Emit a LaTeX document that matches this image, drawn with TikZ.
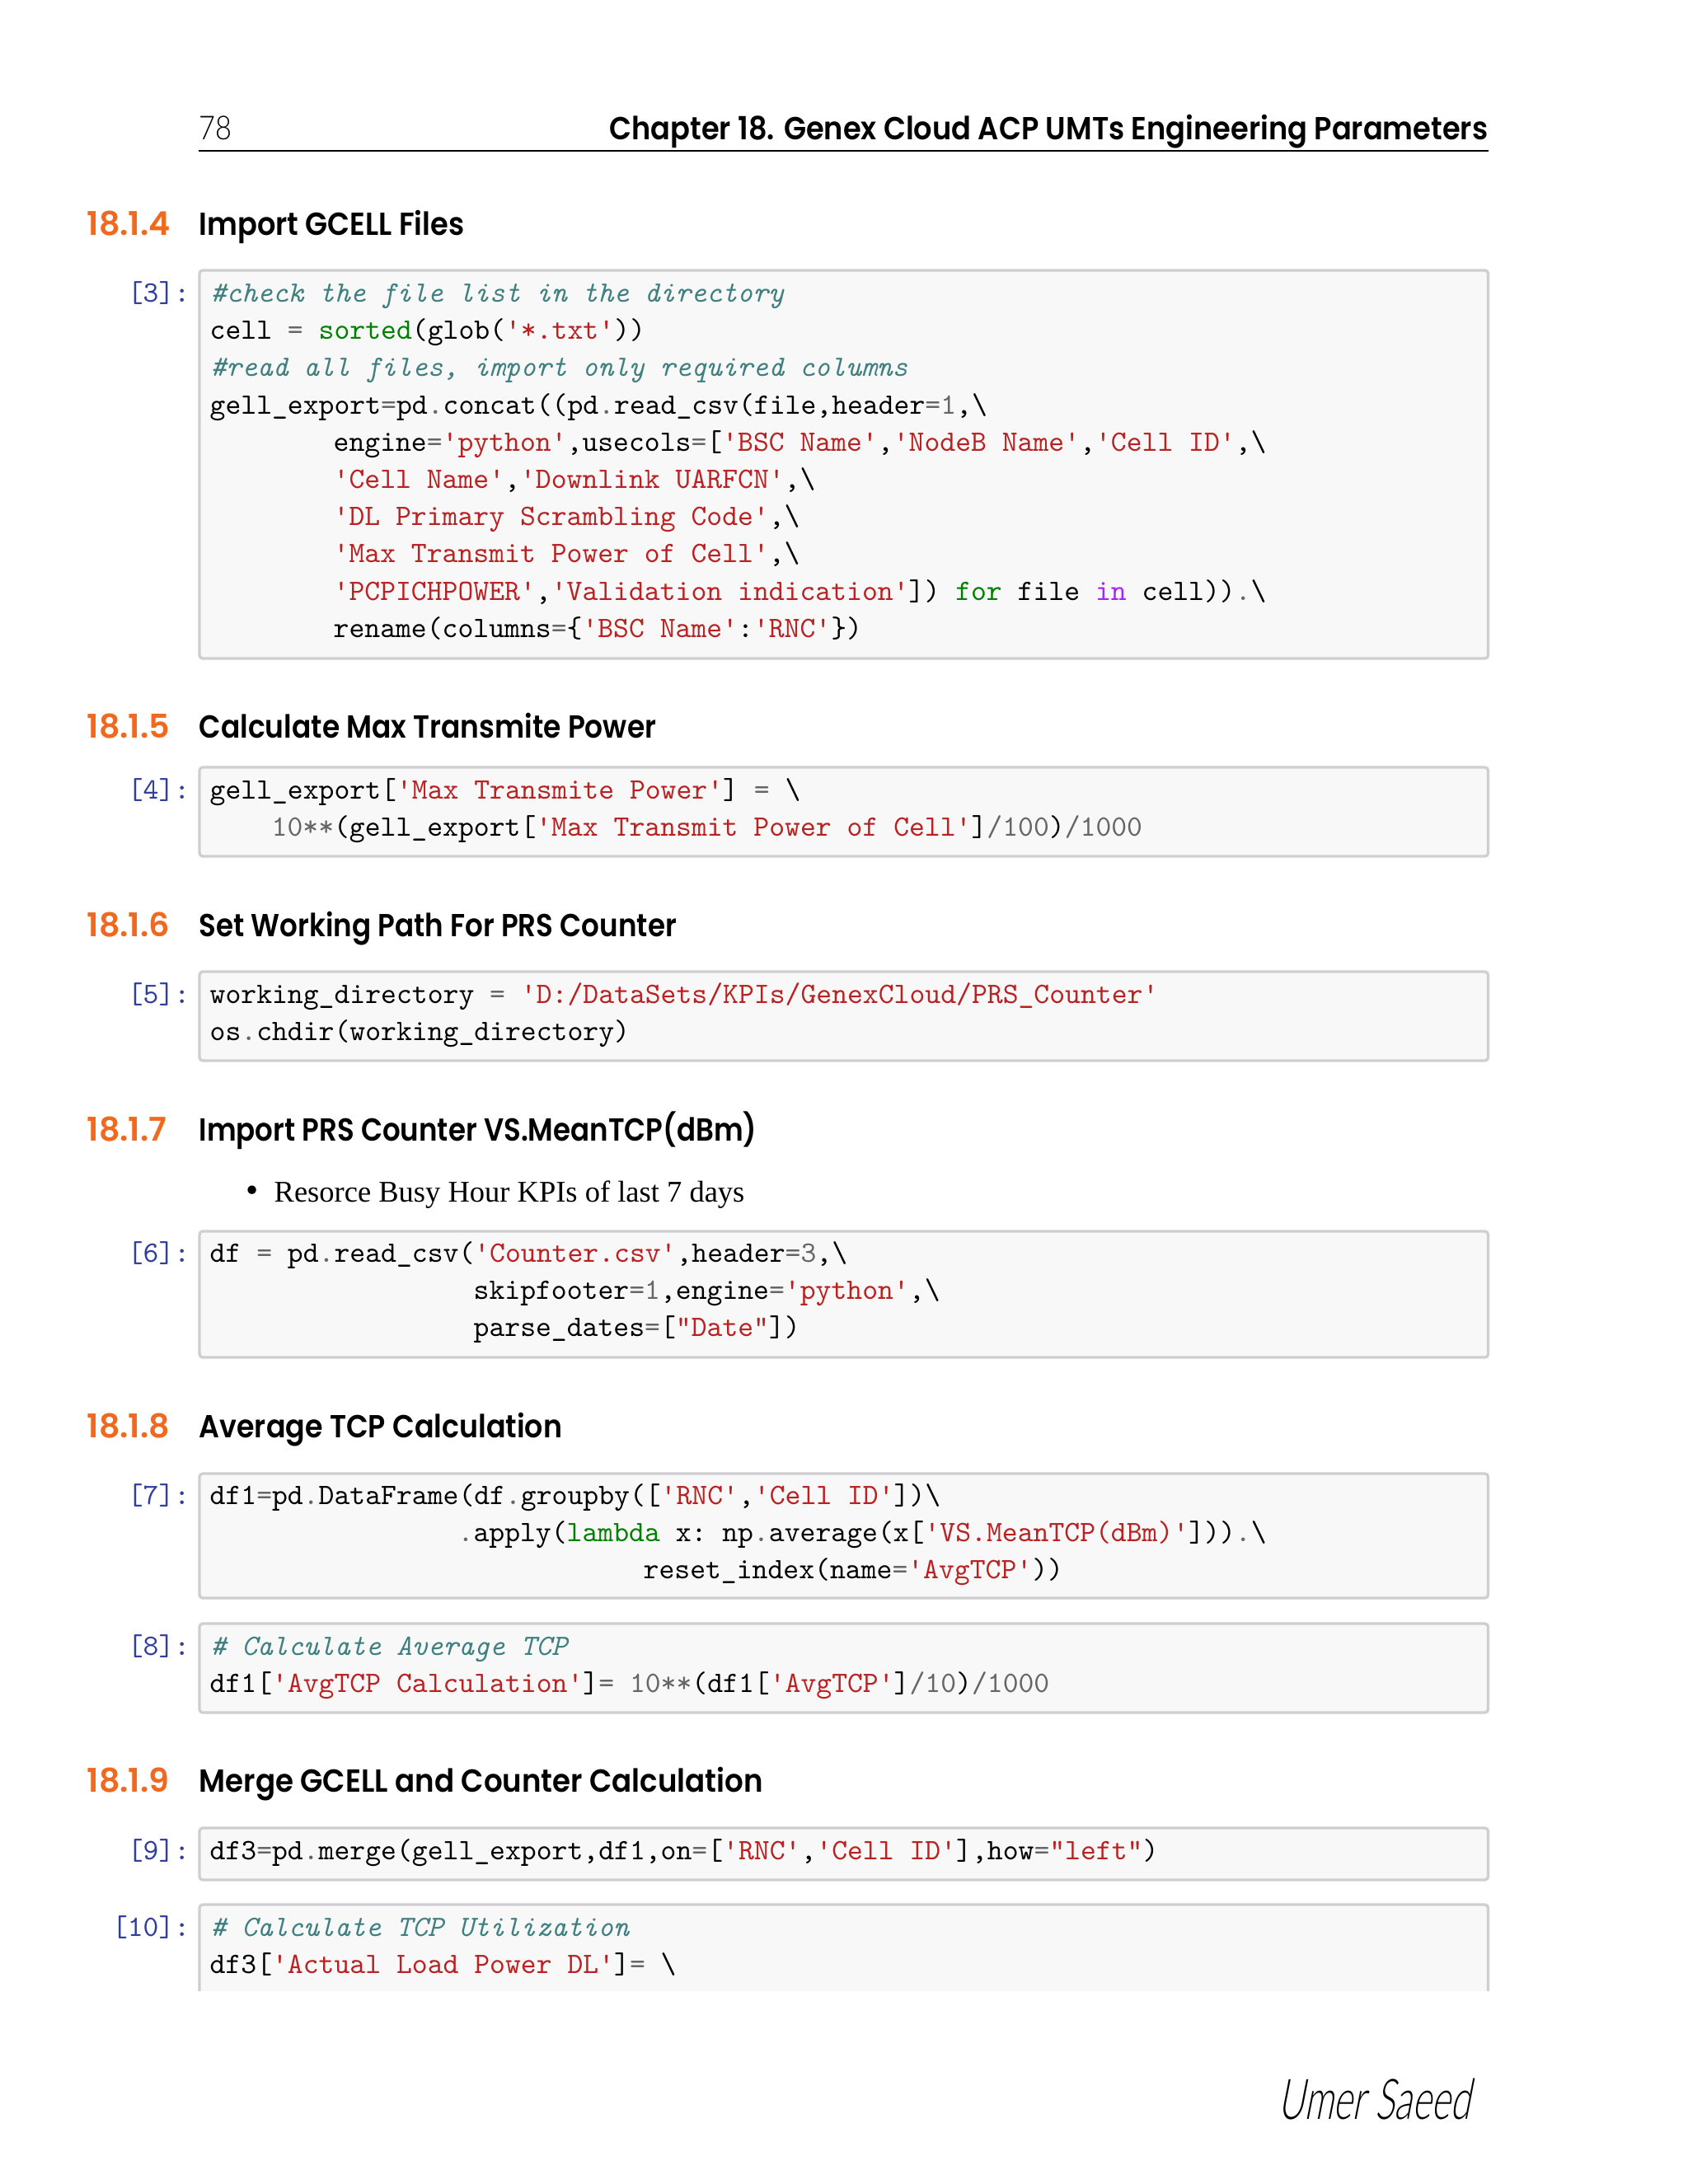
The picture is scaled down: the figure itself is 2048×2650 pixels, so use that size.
\documentclass[tikz,border=0pt]{standalone}
\usepackage{fontspec}
\setmainfont{Liberation Serif}
\setsansfont{Poppins}
\newfontfamily\headfont[FakeStretch=0.91]{Poppins SemiBold}
\newfontfamily\numfont{Poppins SemiBold}
\newfontfamily\lightfont{Lato Light}
\definecolor{cmt}{HTML}{408080}
\definecolor{strc}{HTML}{BA2121}
\definecolor{kw}{HTML}{008000}
\definecolor{opc}{HTML}{666666}
\definecolor{pur}{HTML}{AA22FF}
\definecolor{prm}{HTML}{303F9F}
\definecolor{boxfill}{HTML}{F8F8F9}
\definecolor{boxline}{HTML}{CFCFD1}
\definecolor{secorange}{HTML}{F0691E}
\newcommand{\St}[1]{\textcolor{strc}{#1}}
\newcommand{\Kw}[1]{\textcolor{kw}{#1}}
\newcommand{\Op}[1]{\textcolor{opc}{#1}}
\newcommand{\Bs}{\textbackslash}
\tikzset{
  x=0.3pt,y=-0.3pt,
  code/.style={inner sep=0pt,anchor=base west,font=\ttfamily\fontsize{10.78}{12}\selectfont\frenchspacing},
  comm/.style={code,text=cmt,font=\ttfamily\itshape\fontsize{10.74}{12}\selectfont\frenchspacing},
  prompt/.style={code,anchor=base east,text=prm},
  cellbox/.style={draw=boxline,fill=boxfill,line width=1pt,rounded corners=1.2pt},
  secnum/.style={inner sep=0pt,anchor=base west,text=secorange,font=\numfont\fontsize{11.9}{14}\selectfont},
  sectitle/.style={inner sep=0pt,anchor=base west,font=\headfont\fontsize{11.6}{14}\selectfont,transform shape},
}
\begin{document}
\begin{tikzpicture}
\useasboundingbox (0,0) rectangle (2048,2650);
\fill[white] (0,0) rectangle (2048,2650);
% header
\node[inner sep=0pt,anchor=base west,font=\lightfont\fontsize{12}{14}\selectfont,xscale=0.86,transform shape] (pg) at (241,169) {78};
\node[sectitle,anchor=base east] (ch) at (1806,169) {Chapter 18. Genex Cloud ACP UMTs Engineering Parameters};
\draw[line width=0.5pt] (241,183) -- (1806,183);
% section titles
\node[secnum] (n4) at (105,285) {18.1.4}; \node[sectitle] (t4) at (241,285) {Import GCELL Files};
\node[secnum] (n5) at (105,895) {18.1.5}; \node[sectitle,xscale=0.98] (t5) at (241,895) {Calculate Max Transmite Power};
\node[secnum] (n6) at (105,1136) {18.1.6}; \node[sectitle,xscale=0.97] (t6) at (241,1136) {Set Working Path For PRS Counter};
\node[secnum] (n7) at (105,1384) {18.1.7}; \node[sectitle,xscale=0.968] (t7) at (241,1384) {Import PRS Counter VS.MeanTCP(dBm)};
\node[secnum] (n8) at (105,1744) {18.1.8}; \node[sectitle,xscale=0.99] (t8) at (241,1744) {Average TCP Calculation};
\node[secnum] (n9) at (105,2174) {18.1.9}; \node[sectitle,xscale=1.012] (t9) at (241,2174) {Merge GCELL and Counter Calculation};
% boxes
\path[cellbox] (242,328) rectangle (1805.5,799);
\path[cellbox] (242,931) rectangle (1805.5,1039);
\path[cellbox] (242,1179) rectangle (1805.5,1287);
\path[cellbox] (242,1494) rectangle (1805.5,1647);
\path[cellbox] (242,1788) rectangle (1805.5,1939);
\path[cellbox] (242,1970) rectangle (1805.5,2078);
\path[cellbox] (242,2218) rectangle (1805.5,2281);
\fill[boxfill] (242,2311) rectangle (1805.5,2416);
\draw[boxline,line width=1pt,rounded corners=1.2pt] (242,2416) -- (242,2311) -- (1805.5,2311) -- (1805.5,2416);
% prompts
\node[prompt] (p3) at (231,366) {[3]:};
\node[prompt] (p4) at (231,969) {[4]:};
\node[prompt] (p5) at (231,1217) {[5]:};
\node[prompt] (p6) at (231,1531) {[6]:};
\node[prompt] (p7) at (231,1825) {[7]:};
\node[prompt] (p8) at (231,2008) {[8]:};
\node[prompt] (p9) at (231,2256) {[9]:};
\node[prompt] (p10) at (231,2349) {[10]:};
% cell 3
\node[comm] (a1) at (255,366) {\#check the file list in the directory};
\node[code] (a2) at (254,411) {cell \Op{=} \Kw{sorted}(glob(\St{'*.txt'}))};
\node[comm] (a3) at (255,456) {\#read all files, import only required columns};
\node[code] (a4) at (254,502) {gell\_export\Op{=}pd\Op{.}concat((pd\Op{.}read\_csv(file,header\Op{=1},\Bs};
\node[code] (a5) at (404,547) {engine\Op{=}\St{'python'},usecols\Op{=}[\St{'BSC Name'},\St{'NodeB Name'},\St{'Cell ID'},\Bs};
\node[code] (a6) at (404,592) {\St{'Cell Name'},\St{'Downlink UARFCN'},\Bs};
\node[code] (a7) at (404,637) {\St{'DL Primary Scrambling Code'},\Bs};
\node[code] (a8) at (404,682) {\St{'Max Transmit Power of Cell'},\Bs};
\node[code] (a9) at (404,728) {\St{'PCPICHPOWER'},\St{'Validation indication'}]) \Kw{for} file \textcolor{pur}{in} cell))\Op{.}\Bs};
\node[code] (a10) at (404,773) {rename(columns\Op{=}\{\St{'BSC Name'}:\St{'RNC'}\})};
% cell 4
\node[code] (b1) at (254,969) {gell\_export[\St{'Max Transmite Power'}] \Op{=} \Bs};
\node[code] (b2) at (329,1014) {\Op{10**}(gell\_export[\St{'Max Transmit Power of Cell'}]\Op{/100})\Op{/1000}};
% cell 5
\node[code] (c1) at (254,1217) {working\_directory \Op{=} \St{'D:/DataSets/KPIs/GenexCloud/PRS\_Counter'}};
\node[code] (c2) at (254,1262) {os\Op{.}chdir(working\_directory)};
% bullet
\node[inner sep=0pt,anchor=base west,font=\rmfamily\fontsize{13}{14}\selectfont] (bl) at (298,1458) {\textbullet};
\node[inner sep=0pt,anchor=base west,font=\rmfamily\fontsize{10.95}{14}\selectfont] (bt) at (332,1458) {Resorce Busy Hour KPIs of last 7 days};
% cell 6
\node[code] (d1) at (254,1531) {df \Op{=} pd\Op{.}read\_csv(\St{'Counter.csv'},header\Op{=3},\Bs};
\node[code] (d2) at (574,1576) {skipfooter\Op{=1},engine\Op{=}\St{'python'},\Bs};
\node[code] (d3) at (574,1621) {parse\_dates\Op{=}[\St{"Date"}])};
% cell 7
\node[code] (e1) at (254,1825) {df1\Op{=}pd\Op{.}DataFrame(df\Op{.}groupby([\St{'RNC'},\St{'Cell ID'}])\Bs};
\node[code] (e2) at (555,1870) {\Op{.}apply(\Kw{lambda} x: np\Op{.}average(x[\St{'VS.MeanTCP(dBm)'}]))\Op{.}\Bs};
\node[code] (e3) at (780,1915) {reset\_index(name\Op{=}\St{'AvgTCP'}))};
% cell 8
\node[comm] (f1) at (255,2008) {\# Calculate Average TCP};
\node[code] (f2) at (254,2053) {df1[\St{'AvgTCP Calculation'}]\Op{=} \Op{10**}(df1[\St{'AvgTCP'}]\Op{/10})\Op{/1000}};
% cell 9
\node[code] (g1) at (254,2256) {df3\Op{=}pd\Op{.}merge(gell\_export,df1,on\Op{=}[\St{'RNC'},\St{'Cell ID'}],how\Op{=}\St{"left"})};
% cell 10
\node[comm] (h1) at (255,2349) {\# Calculate TCP Utilization};
\node[code] (h2) at (254,2394) {df3[\St{'Actual Load Power DL'}]\Op{=} \Bs};
% signature
\node[inner sep=0pt,anchor=base west,font=\lightfont\fontsize{17}{20}\selectfont,xscale=0.78,yscale=1.2,xslant=0.3,transform shape] (sig) at (1550,2571) {Umer Saeed};
\end{tikzpicture}
\end{document}
